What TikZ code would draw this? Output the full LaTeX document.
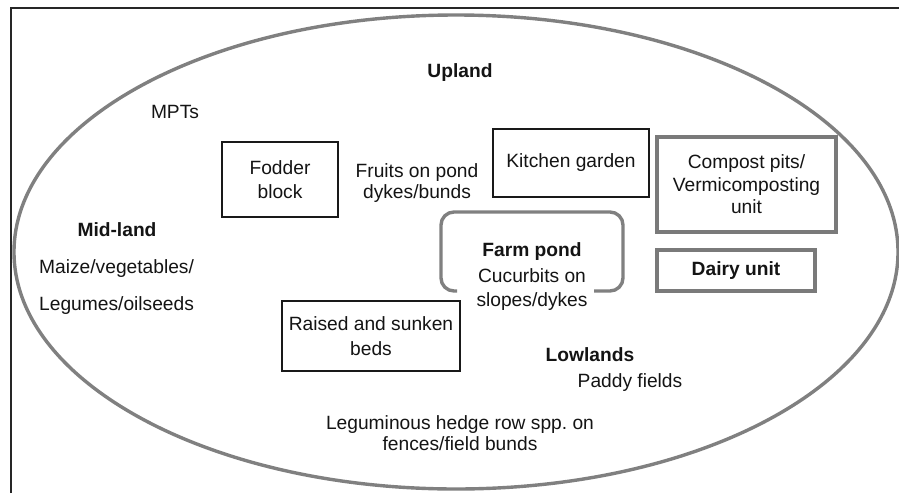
\documentclass[tikz,border=0pt]{standalone}
\usepackage{fontspec}
\setmainfont{Liberation Sans}
\frenchspacing
\begin{document}
\begin{tikzpicture}[x=1pt,y=-1pt,
  txt/.style={font=\fontsize{19.2}{22.5}\selectfont, text=black!92, inner sep=0pt, align=center},
  bold/.style={txt, font=\fontsize{19.2}{22.5}\selectfont\bfseries},
  thinbox/.style={txt, draw=black!90, line width=1.4pt},
  thickbox/.style={txt, draw=black!52, line width=3.4pt},
  zone/.style={draw=black!50, line width=3.4pt}]
\useasboundingbox (0,0) rectangle (899,493);
\fill[white] (0,0) rectangle (899,493);

% frame on top and left
\draw[black!85, line width=2pt] (11,493) -- (11,8) -- (899,8);

% farm boundary
\draw[zone] (456,252) ellipse [x radius=442, y radius=237];

% land zones
\node[bold] (upland) at (460,73) {Upland};
\node[txt] (mpts) at (175,112) {MPTs};
\node[bold] (midland) at (117,230) {Mid-land};
\node[txt, anchor=west] (maize) at (39,269) {Maize/vegetables/};
\node[txt, anchor=west] (legumes) at (39,306) {Legumes/oilseeds};
\node[bold] (lowlands) at (590,355) {Lowlands};
\node[txt] (paddy) at (630,383) {Paddy fields};
\node[txt, font=\fontsize{19.2}{21.5}\selectfont] (hedge) at (460,433) {Leguminous hedge row spp. on\\fences/field bunds};

% components
\node[thinbox, minimum width=116, minimum height=75, font=\fontsize{19.2}{23.5}\selectfont] (fodder) at (280,179.5) {Fodder\\block};
\node[txt, font=\fontsize{19.2}{20.5}\selectfont] (fruits) at (417,183) {Fruits on pond\\dykes/bunds};
\node[thinbox, minimum width=156, minimum height=68] (kitchen) at (571,163) {Kitchen garden};
\node[thickbox, minimum width=179, minimum height=95] (compost) at (746.5,184.5) {Compost pits/\\Vermicomposting\\unit};
\node[thickbox, minimum width=158, minimum height=41, font=\fontsize{19.2}{22.5}\selectfont\bfseries] (dairy) at (736,270.5) {Dairy unit};
\node[thinbox, minimum width=178, minimum height=70, font=\fontsize{19.2}{24.5}\selectfont] (beds) at (371,336) {Raised and sunken\\beds};

% farm pond, open along the bottom under its label
\draw[zone, rounded corners=13pt] (457,291) -| (441,212) -| (623,291) -- (594,291);
\node[bold] (pond) at (532,252) {Farm pond};
\node[txt, font=\fontsize{19.2}{24}\selectfont] (cucurbits) at (532,290) {Cucurbits on\\slopes/dykes};
\end{tikzpicture}
\end{document}
